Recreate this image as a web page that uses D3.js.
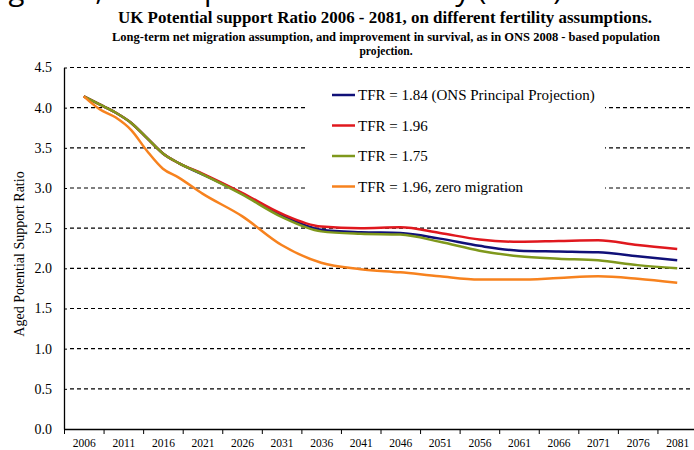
<!DOCTYPE html>
<html>
<head>
<meta charset="utf-8">
<script src="https://cdn.jsdelivr.net/npm/d3@7"></script>
<style>
    body { margin: 0; background: #fff; }
    svg { display: block; }
    svg text { font-family: "Liberation Serif", "Times New Roman", "DejaVu Serif", serif; fill: #000; }
    svg text.heading { font-family: "Open Sans", sans-serif; }
</style>
</head>
<body>
<svg id="chart" width="694" height="450"></svg>
<script>
// values (aged potential support ratio)
const years = [2006, 2008, 2010, 2012, 2014, 2016, 2018, 2021, 2026, 2031, 2036, 2041, 2046, 2051, 2056, 2061, 2066, 2071, 2076, 2081];
const tfr184 = [4.14, 4.04, 3.94, 3.81, 3.62, 3.43, 3.31, 3.17, 2.93, 2.66, 2.48, 2.45, 2.44, 2.37, 2.28, 2.22, 2.21, 2.20, 2.15, 2.10];
const tfr196 = [4.14, 4.04, 3.94, 3.81, 3.62, 3.43, 3.31, 3.18, 2.94, 2.68, 2.52, 2.50, 2.51, 2.44, 2.36, 2.33, 2.34, 2.35, 2.29, 2.24];
const tfr175 = [4.14, 4.04, 3.94, 3.81, 3.62, 3.43, 3.31, 3.17, 2.92, 2.64, 2.46, 2.43, 2.42, 2.33, 2.22, 2.15, 2.12, 2.10, 2.04, 2.00];
const zeroMig = [4.14, 3.98, 3.88, 3.72, 3.46, 3.24, 3.13, 2.93, 2.65, 2.29, 2.07, 1.99, 1.95, 1.90, 1.86, 1.86, 1.88, 1.90, 1.87, 1.82];

const labelYears = [2006, 2011, 2016, 2021, 2026, 2031, 2036, 2041, 2046, 2051, 2056, 2061, 2066, 2071, 2076, 2081];
const yTicks = [0, 0.5, 1, 1.5, 2, 2.5, 3, 3.5, 4, 4.5];

const seriesNames = ["TFR =  1.84 (ONS Principal Projection)", "TFR = 1.96", "TFR = 1.75", "TFR = 1.96, zero migration"];
const seriesValues = [tfr184, tfr196, tfr175, zeroMig];
const seriesColors = ["#101078", "#e0181e", "#7f981c", "#f7821e"];

const svg = d3.select("#chart");

let x = d3.scaleLinear().domain([2003.5, 2083.5]).range([64, 697]);
let y = d3.scaleLinear().domain([0, 4.5]).range([429, 67.5]);

// cut-off heading at the very top of the picture
svg.append("text")
    .attr("class", "heading")
    .attr("x", -14).attr("y", 0)
    .attr("textLength", 576).attr("lengthAdjust", "spacingAndGlyphs")
    .style("font-size", "27px")
    .text("Figure 3, The Impact of Low Fertility (2009)");

// titles
svg.append("text")
    .attr("x", 385).attr("y", 23).attr("text-anchor", "middle")
    .attr("textLength", 534).attr("lengthAdjust", "spacingAndGlyphs")
    .style("font-size", "16px").style("font-weight", "bold")
    .text("UK Potential support Ratio 2006 - 2081, on different fertility assumptions.");

svg.append("text")
    .attr("x", 386).attr("y", 41).attr("text-anchor", "middle")
    .attr("textLength", 548).attr("lengthAdjust", "spacingAndGlyphs")
    .style("font-size", "11.5px").style("font-weight", "bold")
    .text("Long-term net migration assumption, and improvement in survival, as in ONS 2008 - based population");

svg.append("text")
    .attr("x", 386).attr("y", 55).attr("text-anchor", "middle")
    .style("font-size", "11.5px").style("font-weight", "bold")
    .text("projection.");

// dashed gridlines
svg.append("g")
    .selectAll("line")
    .data(yTicks.filter(d => d > 0))
    .enter()
    .append("line")
    .attr("x1", 70).attr("x2", 692)
    .attr("y1", d => y(d)).attr("y2", d => y(d))
    .style("stroke", "#000").style("stroke-width", 1.2)
    .style("stroke-dasharray", "4,3");

// y axis, ticks crossing the axis line
let yAxis = svg.append("g")
    .attr("transform", "translate(64,0)")
    .call(d3.axisLeft(y).tickValues(yTicks).tickFormat(d3.format(".1f")).tickSizeInner(3).tickSizeOuter(0).tickPadding(9));
yAxis.attr("font-family", null).attr("font-size", null);
yAxis.selectAll(".tick line").attr("x2", 3);
yAxis.select(".domain").style("stroke-width", 1.3);
yAxis.selectAll("text").style("font-size", "14px");

// x axis: tick marks between the labelled years
let tickEdges = labelYears.map(d => d - 2.5).concat([2083.5]);
let xAxis = svg.append("g")
    .attr("transform", "translate(0,429)")
    .call(d3.axisBottom(x).tickValues(tickEdges).tickFormat("").tickSizeInner(5).tickSizeOuter(0));
xAxis.select(".domain").style("stroke-width", 1.3);

let xLabels = svg.append("g")
    .attr("transform", "translate(0,429)")
    .call(d3.axisBottom(x).tickValues(labelYears).tickFormat(d3.format("d")).tickSize(0).tickPadding(10));
xLabels.attr("font-family", null).attr("font-size", null);
xLabels.select(".domain").remove();
xLabels.selectAll("text").style("font-size", "11.5px");

svg.append("text")
    .attr("transform", "translate(24,254) rotate(-90)")
    .attr("text-anchor", "middle")
    .style("font-size", "14px")
    .text("Aged Potential Support Ratio");

// series lines
let line = d3.line()
    .x((d, i) => x(years[i]))
    .y(d => y(d))
    .curve(d3.curveMonotoneX);

svg.append("g")
    .selectAll("path")
    .data(seriesValues)
    .enter()
    .append("path")
    .attr("d", line)
    .style("fill", "none")
    .style("stroke", (d, i) => seriesColors[i])
    .style("stroke-width", 2.5)
    .style("stroke-linejoin", "round");

// legend sits on a white box over the gridlines
let legend = svg.append("g");
legend.append("rect")
    .attr("x", 307).attr("y", 75).attr("width", 298).attr("height", 130)
    .style("fill", "#fff");

let rows = legend.selectAll("g.row")
    .data(seriesNames)
    .enter()
    .append("g")
    .attr("class", "row")
    .attr("transform", (d, i) => "translate(332," + (95 + i * 30.5) + ")");

rows.append("line")
    .attr("x1", 0).attr("x2", 23)
    .style("stroke", (d, i) => seriesColors[i])
    .style("stroke-width", 2.5);

rows.append("text")
    .attr("x", 26).attr("y", 5)
    .style("font-size", "15px")
    .text(d => d);
</script>
</body>
</html>
